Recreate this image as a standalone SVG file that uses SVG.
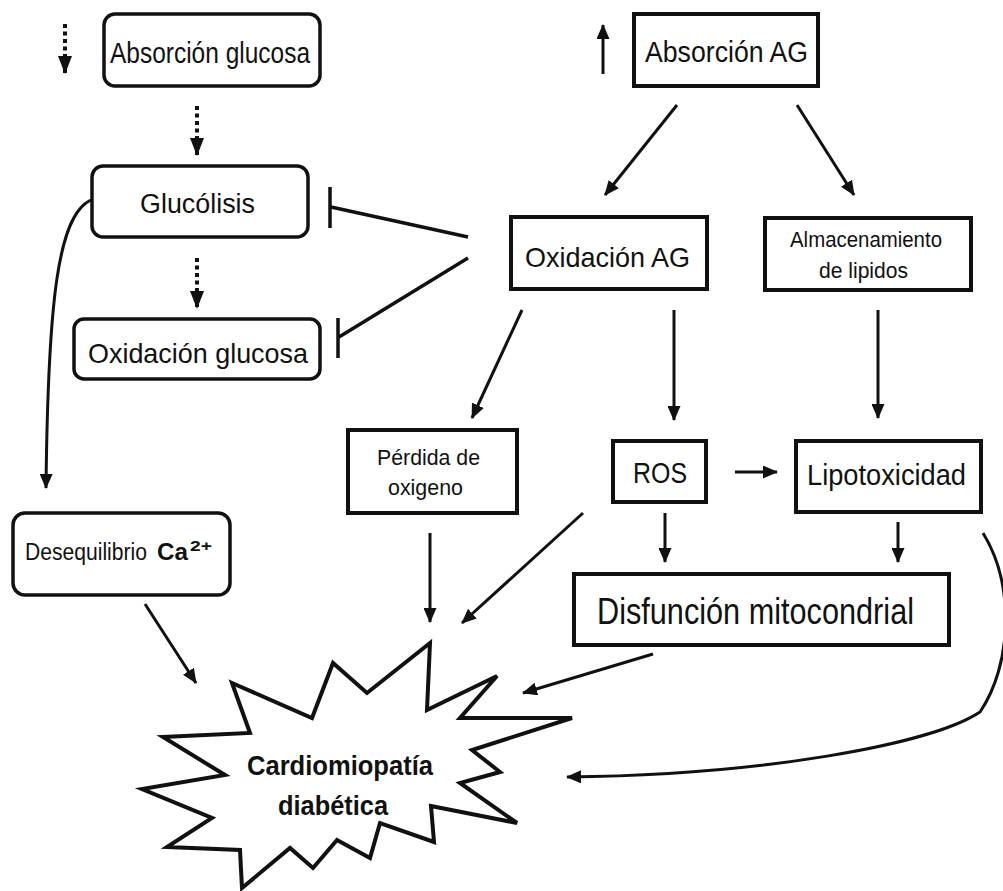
<svg xmlns="http://www.w3.org/2000/svg" width="1003" height="891" viewBox="0 0 1003 891">
<style>
.box{fill:#fff;stroke:#111;stroke-width:4}
.rbox{fill:#fff;stroke:#111;stroke-width:3.5}
.t{font-family:"Liberation Sans",Arial,sans-serif;fill:#111;text-anchor:start}
.b{font-weight:bold}
.c{fill:none;stroke:#111;stroke-width:3}
.d{fill:none;stroke:#111;stroke-width:4;stroke-dasharray:4 3.5}
</style>
<defs>
<marker id="ah" markerUnits="userSpaceOnUse" markerWidth="15" markerHeight="13" refX="14" refY="6.5" orient="auto">
<path d="M0,0 L15,6.5 L0,13 z" fill="#111"/>
</marker>
<marker id="dah" markerUnits="userSpaceOnUse" markerWidth="18" markerHeight="14" refX="17" refY="7" orient="auto">
<path d="M0,0 L18,7 L0,14 z" fill="#111"/>
</marker>
</defs>
<rect width="1003" height="891" fill="#fff"/>

<g id="connectors">
<path class="d" d="M65,24 L65,73" marker-end="url(#dah)"/>
<path class="d" d="M197,106 L197,155" marker-end="url(#dah)"/>
<path class="d" d="M197,258 L197,308" marker-end="url(#dah)"/>
<path class="c" d="M603,74 L603,25" marker-end="url(#ah)"/>
<path class="c" d="M677,105 L605,195" marker-end="url(#ah)"/>
<path class="c" d="M797,105 L854,195" marker-end="url(#ah)"/>
<path class="c" d="M468,237 L331,207 M330,187 L330,228" style="stroke-width:3.5"/>
<path class="c" d="M468,258 L339,337 M338,318 L338,358" style="stroke-width:3.5"/>
<path class="c" d="M522,310 L472,418" marker-end="url(#ah)"/>
<path class="c" d="M674,310 L674,420" marker-end="url(#ah)"/>
<path class="c" d="M878,310 L878,418" marker-end="url(#ah)"/>
<path class="c" d="M735,472 L777,472" marker-end="url(#ah)"/>
<path class="c" d="M665,513 L665,562" marker-end="url(#ah)"/>
<path class="c" d="M898,522 L898,562" marker-end="url(#ah)"/>
<path class="c" d="M91,200 C58,215 48,300 46,488" marker-end="url(#ah)"/>
<path class="c" d="M145,604 L196,683" marker-end="url(#ah)"/>
<path class="c" d="M430,533 L430,622" marker-end="url(#ah)"/>
<path class="c" d="M583,513 L462,623" marker-end="url(#ah)"/>
<path class="c" d="M653,654 L523,693" marker-end="url(#ah)"/>
<path class="c" d="M983,533 C1015,585 1012,665 980,712 C930,745 760,775 567,777" marker-end="url(#ah)"/>
</g>

<g id="absorcion-glucosa">
<rect class="rbox" x="104" y="14" width="216" height="72" rx="11"/>
<text class="t" x="110" y="63" font-size="29" textLength="200" lengthAdjust="spacingAndGlyphs">Absorción glucosa</text>
</g>
<g id="glucolisis">
<rect class="rbox" x="92" y="166" width="216" height="71" rx="11"/>
<text class="t" x="140" y="213" font-size="27" textLength="115" lengthAdjust="spacingAndGlyphs">Glucólisis</text>
</g>
<g id="oxidacion-glucosa">
<rect class="rbox" x="74" y="319" width="246" height="60" rx="10"/>
<text class="t" x="88" y="363" font-size="28" textLength="220" lengthAdjust="spacingAndGlyphs">Oxidación glucosa</text>
</g>
<g id="desequilibrio">
<rect class="rbox" x="13" y="513" width="217" height="82" rx="12"/>
<text class="t" x="25" y="560" font-size="23" textLength="122" lengthAdjust="spacingAndGlyphs">Desequilibrio</text>
<text class="t b" x="157" y="560" font-size="23" textLength="31" lengthAdjust="spacingAndGlyphs">Ca</text>
<text class="t b" x="190" y="551" font-size="14" textLength="22" lengthAdjust="spacingAndGlyphs">2+</text>
</g>
<g id="absorcion-ag">
<rect class="box" x="634" y="14" width="184" height="72"/>
<text class="t" x="645" y="62" font-size="29" textLength="163" lengthAdjust="spacingAndGlyphs">Absorción AG</text>
</g>
<g id="oxidacion-ag">
<rect class="box" x="511" y="217" width="196" height="72"/>
<text class="t" x="525" y="267" font-size="28" textLength="165" lengthAdjust="spacingAndGlyphs">Oxidación AG</text>
</g>
<g id="almacenamiento">
<rect class="box" x="765" y="218" width="206" height="72"/>
<text class="t" x="790" y="247" font-size="22" textLength="152" lengthAdjust="spacingAndGlyphs">Almacenamiento</text>
<text class="t" x="819" y="278" font-size="22" textLength="89" lengthAdjust="spacingAndGlyphs">de lipidos</text>
</g>
<g id="perdida-oxigeno">
<rect class="box" x="348" y="430" width="169" height="83"/>
<text class="t" x="377" y="465" font-size="22" textLength="103" lengthAdjust="spacingAndGlyphs">Pérdida de</text>
<text class="t" x="388" y="495" font-size="22" textLength="75" lengthAdjust="spacingAndGlyphs">oxigeno</text>
</g>
<g id="ros">
<rect class="box" x="613" y="441" width="93" height="61"/>
<text class="t" x="633" y="483" font-size="29" textLength="54" lengthAdjust="spacingAndGlyphs">ROS</text>
</g>
<g id="lipotoxicidad">
<rect class="box" x="796" y="441" width="185" height="71"/>
<text class="t" x="807" y="485" font-size="29" textLength="159" lengthAdjust="spacingAndGlyphs">Lipotoxicidad</text>
</g>
<g id="disfuncion">
<rect class="box" x="574" y="574" width="375" height="71"/>
<text class="t" x="597" y="624" font-size="36" textLength="317" lengthAdjust="spacingAndGlyphs">Disfunción mitocondrial</text>
</g>
<g id="cardiomiopatia">
<polygon fill="#fff" stroke="#111" stroke-width="4" stroke-linejoin="miter" points="232,683 312,718 333,663 367,693 430,643 427,710 497,676 460,718 572,718 472,750 500,772 460,783 517,823 431,806 434,842 380,823 370,858 337,840 313,868 290,848 242,888 240,850 167,847 212,818 142,789 225,775 163,737 250,733"/>
<text class="t b" x="247" y="775" font-size="28" textLength="186" lengthAdjust="spacingAndGlyphs">Cardiomiopatía</text>
<text class="t b" x="278" y="815" font-size="28" textLength="110" lengthAdjust="spacingAndGlyphs">diabética</text>
</g>
</svg>
